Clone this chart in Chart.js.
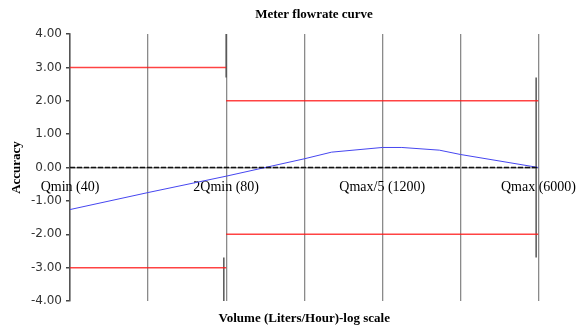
<!DOCTYPE html>
<html>
<head>
<meta charset="utf-8">
<script src="https://cdn.jsdelivr.net/npm/chart.js@4/dist/chart.umd.min.js"></script>
<style>
html,body{margin:0;padding:0;background:#fff;}
#wrap{width:587px;height:327px;position:relative;}
</style>
</head>
<body>
<div id="wrap"><canvas id="c" width="587" height="327"></canvas></div>
<script>
// ---- data ----
const chartTitle = 'Meter flowrate curve';
const xTitle = 'Volume (Liters/Hour)-log scale';
const yTitle = 'Accuracy';
const flowLabels = ['Qmin (40)', '', '2Qmin (80)', '', 'Qmax/5 (1200)', '', 'Qmax (6000)'];
const curveX = [0, 1, 2, 3, 3.35, 4, 4.25, 4.73, 5, 6];
const curveY = [-1.26, -0.75, -0.26, 0.26, 0.46, 0.60, 0.60, 0.52, 0.39, 0.00];
const lowZoneX = [0, 2];
const lowZoneLimits = [3, -3];
const highZoneX = [2, 6];
const highZoneLimits = [2, -2];
const zeroLineX = [0, 6];
const markerX = [2, 1.97, 5.97];
const markerFrom = [4, -4, 2.7];
const markerTo = [2.7, -2.7, -2.7];

// ---- build datasets ----
const datasets = [];
datasets.push({
  label: 'zero',
  data: zeroLineX.map(x => ({x: x, y: 0})),
  borderColor: '#111', borderWidth: 1.6, borderDash: [5, 2], pointRadius: 0
});
datasets.push({
  label: 'curve',
  data: curveX.map((x, i) => ({x: x, y: curveY[i]})),
  borderColor: '#4646f0', borderWidth: 1, pointRadius: 0, tension: 0
});
lowZoneLimits.forEach(v => datasets.push({
  label: 'low ' + v,
  data: lowZoneX.map(x => ({x: x, y: v})),
  borderColor: 'rgba(255,20,20,0.8)', borderWidth: 1.5, pointRadius: 0
}));
highZoneLimits.forEach(v => datasets.push({
  label: 'high ' + v,
  data: highZoneX.map(x => ({x: x, y: v})),
  borderColor: 'rgba(255,20,20,0.8)', borderWidth: 1.5, pointRadius: 0
}));
markerX.forEach((x, i) => datasets.push({
  label: 'marker ' + i,
  data: [{x: x, y: markerFrom[i]}, {x: x, y: markerTo[i]}],
  borderColor: '#555', borderWidth: 1.5, pointRadius: 0
}));

const titlePlugin = {
  id: 'topTitle',
  afterDraw(chart) {
    const ctx = chart.ctx;
    ctx.save();
    ctx.font = 'bold 13px "Liberation Serif", "Times New Roman", serif';
    ctx.fillStyle = '#000';
    ctx.textAlign = 'center';
    ctx.textBaseline = 'middle';
    ctx.fillText(chartTitle, 314, 15);
    ctx.restore();
  }
};

new Chart(document.getElementById('c'), {
  type: 'line',
  data: { datasets: datasets },
  plugins: [titlePlugin],
  options: {
    responsive: false,
    animation: false,
    layout: { padding: { top: 34, right: 48, left: 5, bottom: 0 } },
    plugins: { legend: { display: false }, tooltip: { enabled: false }, title: { display: false } },
    scales: {
      y: {
        type: 'linear', position: 'left', min: -4, max: 4,
        afterFit(s) { s.width = 65; },
        ticks: { stepSize: 1, padding: 4, color: '#333',
          font: { family: '"DejaVu Sans", Verdana, sans-serif', size: 12 },
          callback: v => Number(v).toFixed(2) },
        grid: { drawOnChartArea: true, drawTicks: true, tickLength: 4, tickColor: '#444',
          color: c => (c.tick && c.tick.value === 0) ? '#999' : 'rgba(0,0,0,0)', lineWidth: 1.5 },
        border: { display: true, color: '#555', width: 1.5 },
        title: { display: true, text: yTitle, color: '#000', padding: { top: 4, bottom: 4 },
          font: { family: '"Liberation Serif", "Times New Roman", serif', size: 13, weight: 'bold' } }
      },
      x: {
        type: 'linear', position: { y: 0 }, min: 0, max: 6,
        ticks: { stepSize: 1, autoSkip: false, maxRotation: 0, padding: 11, color: '#000',
          font: { family: '"Liberation Serif", "Times New Roman", serif', size: 14 },
          callback: v => flowLabels[Math.round(v)] || '' },
        grid: { drawTicks: false, color: '#8a8a8a', lineWidth: 1.3 },
        border: { display: false }
      },
      x2: {
        type: 'linear', position: 'bottom', min: 0, max: 6,
        afterFit(s) { s.height = 26; },
        ticks: { display: false },
        grid: { display: false, drawTicks: false },
        border: { display: false },
        title: { display: true, text: xTitle, color: '#000', padding: { top: 4, bottom: 1 },
          font: { family: '"Liberation Serif", "Times New Roman", serif', size: 13, weight: 'bold' } }
      }
    }
  }
});
</script>
</body>
</html>
